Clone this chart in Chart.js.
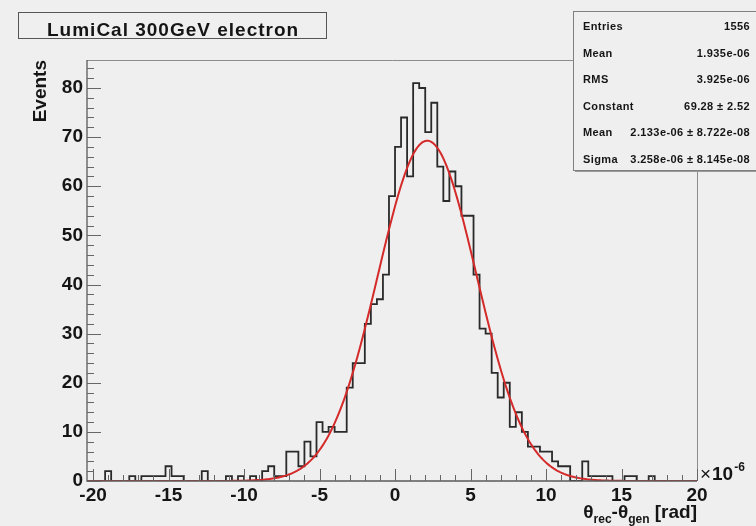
<!DOCTYPE html>
<html>
<head>
<meta charset="utf-8">
<script src="https://cdn.jsdelivr.net/npm/chart.js@4.4.1/dist/chart.umd.min.js"></script>
<style>
  html, body { margin: 0; padding: 0; background: #efefef; }
  #wrap { width: 756px; height: 526px; }
</style>
</head>
<body>
<div id="wrap"><canvas id="histo" width="756" height="526"></canvas></div>
<script>
// theta residual histogram, x in units of 1e-6 rad
const xMin = -20.4;
const xMax = 20;
const binStart = -20;
const binWidth = 0.4;
const counts = [
  0, 0, 2, 0, 0, 0, 1, 0, 1, 1,
  1, 1, 3, 1, 1, 0, 0, 0, 2, 0,
  0, 0, 1, 0, 1, 0, 1, 0, 2, 3,
  1, 1, 6, 6, 3, 8, 5, 12, 10, 11,
  10, 10, 19, 24, 24, 32, 36, 37, 42, 58,
  68, 74, 62, 81, 80, 71, 77, 64, 57, 63,
  60, 54, 54, 42, 31, 30, 22, 17, 20, 11,
  14, 10, 7, 7, 6, 6, 4, 3, 3, 0,
  0, 4, 1, 1, 1, 1, 0, 0, 1, 1,
  0, 0, 1, 0, 0, 0, 0, 0, 0, 0
];
const xTickLabels = [-20, -15, -10, -5, 0, 5, 10, 15, 20];
const yTickLabels = [0, 10, 20, 30, 40, 50, 60, 70, 80];
const yMax = 85.7;

// stats box numbers
const nEntries = 1556;
const histMean = 1.935e-6;
const histRms = 3.925e-6;
const fitConstant = 69.28, fitConstantErr = 2.52;
const fitMean = 2.133e-6, fitMeanErr = 8.722e-8;
const fitSigma = 3.258e-6, fitSigmaErr = 8.145e-8;

const FONT = '"Liberation Sans", Arial, Helvetica, sans-serif';
const BG = '#efefef';
const INK = '#151515';

function rootExp(v) {
  const parts = v.toExponential(3).split('e');
  const sign = parts[1][0];
  return parts[0] + 'e' + sign + parts[1].slice(1).padStart(2, '0');
}

const histPoints = counts.map((c, i) => ({ x: binStart + i * binWidth, y: c }));
histPoints.push({ x: binStart + counts.length * binWidth, y: counts[counts.length - 1] });

// gaussian from the fit parameters
const fitPoints = [];
for (let k = 0; k <= 404; k++) {
  const x = xMin + k * 0.1;
  const z = (x - fitMean * 1e6) / (fitSigma * 1e6);
  fitPoints.push({ x: x, y: fitConstant * Math.exp(-0.5 * z * z) });
}

const statRows = [
  ['Entries', String(nEntries)],
  ['Mean', rootExp(histMean)],
  ['RMS', rootExp(histRms)],
  ['Constant', fitConstant.toFixed(2) + ' \u00b1 ' + fitConstantErr.toFixed(2)],
  ['Mean', rootExp(fitMean) + ' \u00b1 ' + rootExp(fitMeanErr)],
  ['Sigma', rootExp(fitSigma) + ' \u00b1 ' + rootExp(fitSigmaErr)]
];

function drawPieces(ctx, pieces, xRight, baseline) {
  let total = 0;
  pieces.forEach(p => {
    ctx.font = 'bold ' + p.size + 'px ' + FONT;
    p.w = ctx.measureText(p.text).width;
    total += p.w;
  });
  let cx = xRight - total;
  pieces.forEach(p => {
    ctx.font = 'bold ' + p.size + 'px ' + FONT;
    ctx.fillText(p.text, cx, baseline + p.dy);
    cx += p.w;
  });
}

const rootPad = {
  id: 'rootPad',
  beforeDraw(chart) {
    const ctx = chart.ctx;
    ctx.save();
    ctx.fillStyle = BG;
    ctx.fillRect(0, 0, chart.width, chart.height);
    ctx.restore();
  },
  afterDraw(chart) {
    const { ctx, chartArea: a, scales: { x, y } } = chart;
    ctx.save();

    // frame top/right
    ctx.strokeStyle = '#8c8c8c';
    ctx.lineWidth = 1;
    ctx.beginPath();
    ctx.moveTo(a.left, a.top + 0.5);
    ctx.lineTo(a.right + 0.5, a.top + 0.5);
    ctx.lineTo(a.right + 0.5, a.bottom);
    ctx.stroke();

    // axes
    ctx.strokeStyle = '#5a5a5a';
    ctx.lineWidth = 1.3;
    ctx.beginPath();
    ctx.moveTo(a.left, a.top);
    ctx.lineTo(a.left, a.bottom);
    ctx.lineTo(a.right, a.bottom);
    ctx.stroke();

    // inward ticks
    ctx.lineWidth = 1;
    ctx.strokeStyle = '#666';
    ctx.beginPath();
    for (let v = 0; v <= yMax; v += 2) {
      const py = Math.round(y.getPixelForValue(v)) + 0.5;
      const len = v % 10 === 0 ? 14 : 7;
      ctx.moveTo(a.left, py);
      ctx.lineTo(a.left + len, py);
    }
    for (let v = -20; v <= 20; v++) {
      const px = Math.round(x.getPixelForValue(v)) + 0.5;
      const len = v % 5 === 0 ? 12 : 6;
      ctx.moveTo(px, a.bottom);
      ctx.lineTo(px, a.bottom - len);
    }
    ctx.stroke();

    ctx.fillStyle = INK;
    ctx.textAlign = 'left';
    ctx.textBaseline = 'alphabetic';

    // x axis title with subscripts
    drawPieces(ctx, [
      { text: '\u03b8', size: 19, dy: 0 },
      { text: 'rec', size: 12, dy: 5 },
      { text: '-\u03b8', size: 19, dy: 0 },
      { text: 'gen', size: 12, dy: 5 },
      { text: ' [rad]', size: 19, dy: 0 }
    ], a.right, 518);

    // exponent label
    ctx.font = '19px ' + FONT;
    ctx.fillText('\u00d7', a.right + 3, 480);
    ctx.font = 'bold 19px ' + FONT;
    const tenX = a.right + 15;
    ctx.fillText('10', tenX, 480);
    const tenW = ctx.measureText('10').width;
    ctx.font = 'bold 12px ' + FONT;
    ctx.fillText('-6', tenX + tenW + 1, 471);

    // title box
    ctx.fillStyle = BG;
    ctx.fillRect(18, 12, 308, 26);
    ctx.strokeStyle = '#555';
    ctx.lineWidth = 1;
    ctx.strokeRect(18.5, 12.5, 308, 26);
    ctx.fillStyle = INK;
    ctx.font = 'bold 19px ' + FONT;
    if ('letterSpacing' in ctx) ctx.letterSpacing = '1px';
    ctx.fillText('LumiCal 300GeV electron', 47, 36);
    if ('letterSpacing' in ctx) ctx.letterSpacing = '0px';

    // stats box
    ctx.fillStyle = '#9a9a9a';
    ctx.fillRect(575, 170, 181, 2);
    ctx.fillStyle = BG;
    ctx.fillRect(573, 12, 183, 158);
    ctx.strokeStyle = '#808080';
    ctx.strokeRect(573.5, 11.5, 190, 159);
    ctx.fillStyle = INK;
    ctx.font = 'bold 11px ' + FONT;
    if ('letterSpacing' in ctx) ctx.letterSpacing = '0.4px';
    statRows.forEach((row, k) => {
      const base = 30 + k * 26.6;
      ctx.textAlign = 'left';
      ctx.fillText(row[0], 583, base);
      ctx.textAlign = 'right';
      ctx.fillText(row[1], 750, base);
    });
    ctx.restore();
  }
};

const ctx = document.getElementById('histo').getContext('2d');
const histoChart = new Chart(ctx, {
  type: 'line',
  data: {
    datasets: [
      {
        label: 'fit',
        data: fitPoints,
        borderColor: '#d42a2a',
        borderWidth: 2,
        pointRadius: 0,
        tension: 0,
        order: 0
      },
      {
        label: 'histo',
        data: histPoints,
        stepped: 'before',
        borderColor: '#2a2a2a',
        borderWidth: 1.8,
        pointRadius: 0,
        fill: false,
        order: 1
      }
    ]
  },
  options: {
    responsive: false,
    animation: false,
    layout: { padding: { top: 60, right: 59, bottom: 0, left: 0 } },
    plugins: {
      legend: { display: false },
      tooltip: { enabled: false }
    },
    scales: {
      x: {
        type: 'linear',
        min: xMin,
        max: xMax,
        afterBuildTicks: scale => { scale.ticks = xTickLabels.map(v => ({ value: v })); },
        afterFit: scale => { scale.height = 45; },
        grid: { display: false, drawTicks: false },
        border: { display: false },
        ticks: {
          autoSkip: false,
          maxRotation: 0,
          padding: 3,
          color: INK,
          font: { family: FONT, size: 19, weight: 'bold' },
          callback: v => String(v)
        }
      },
      y: {
        min: 0,
        max: yMax,
        afterBuildTicks: scale => { scale.ticks = yTickLabels.map(v => ({ value: v })); },
        afterFit: scale => { scale.width = 87; },
        grid: { display: false, drawTicks: false },
        border: { display: false },
        ticks: {
          padding: 4,
          color: INK,
          font: { family: FONT, size: 19, weight: 'bold' },
          callback: v => String(v)
        },
        title: {
          display: true,
          text: 'Events',
          align: 'end',
          color: INK,
          font: { family: FONT, size: 19, weight: 'bold' },
          padding: { top: 29, bottom: 0 }
        }
      }
    }
  },
  plugins: [rootPad]
});
</script>
</body>
</html>
